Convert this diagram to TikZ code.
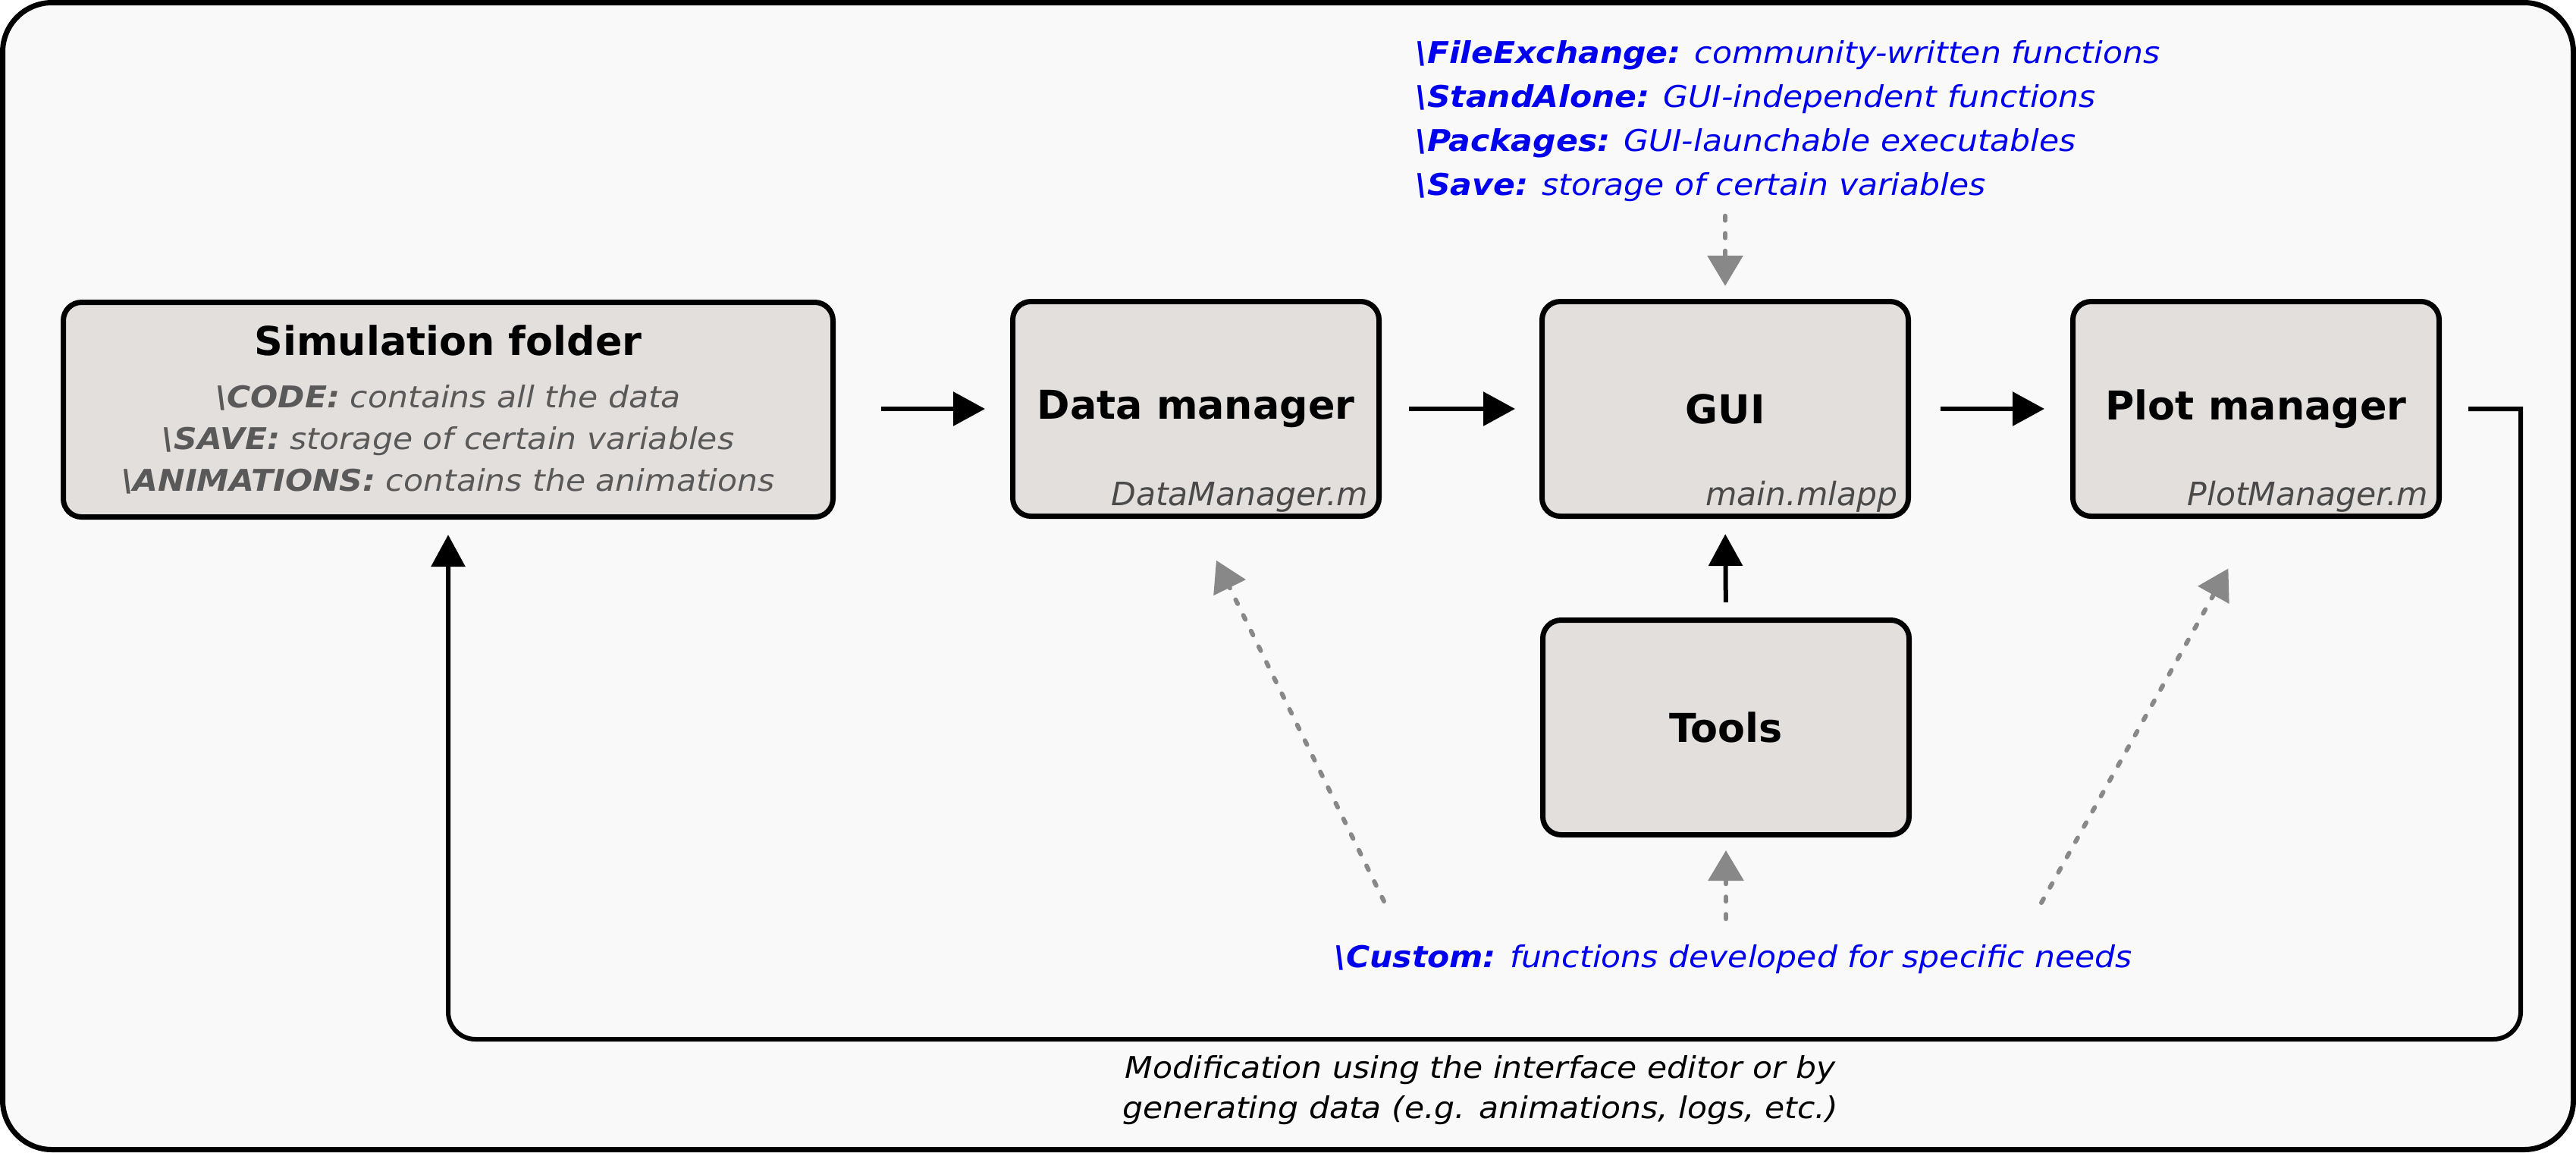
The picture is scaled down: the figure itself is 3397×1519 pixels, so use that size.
\documentclass[tikz,border=0pt]{standalone}
\usepackage{fontspec}
\setmainfont{DejaVu Sans}
\newfontfamily\notefont[FakeStretch=1.076]{DejaVu Sans}
\usetikzlibrary{arrows.meta}
\definecolor{bgfill}{HTML}{F9F9F9}
\definecolor{boxfill}{HTML}{E3DFDC}
\definecolor{subgray}{HTML}{595959}
\definecolor{filegray}{HTML}{4A4A4A}
\definecolor{noteblue}{HTML}{0000EE}
\definecolor{hintgray}{HTML}{888888}

\begin{document}
\begin{tikzpicture}[x=0.1mm,y=-0.1mm,
  box/.style={draw,line width=0.7mm,fill=boxfill,rounded corners=2.4mm,
    minimum width=48.3mm,minimum height=28.3mm,inner sep=0pt,
    font=\fontsize{14.9}{18}\selectfont\bfseries},
  boxtitle/.style={inner sep=0pt,font=\fontsize{14.9}{18}\selectfont\bfseries},
  sub/.style={inner sep=0pt,text=subgray,font=\notefont\itshape\fontsize{11.25}{15.6}\selectfont},
  note/.style={inner sep=0pt,text=noteblue,font=\notefont\itshape\fontsize{11.25}{16.5}\selectfont},
  filelabel/.style={inner sep=0pt,text=filegray,font=\itshape\fontsize{12.1}{14}\selectfont},
  flow/.style={line width=0.6mm,-{Triangle[length=4.2mm,width=4.4mm]}},
  hint/.style={line width=0.6mm,hintgray,line cap=round,dash pattern=on 0.6mm off 1.7mm,
    -{Triangle[length=4mm,width=4.6mm]}}]
\useasboundingbox (0,0) rectangle (3397,1519);
\draw[line width=0.7mm,fill=bgfill,rounded corners=6.5mm] (3.5,3.5) rectangle (3393.5,1515.5);

\node[box,minimum width=101.5mm] (sim) at (591,540) {};
\node[boxtitle,anchor=base] (simtitle) at (591,468) {Simulation folder};
\node[sub,align=center] (simtext) at (591,579)
  {\textbf{\textbackslash CODE:} contains all the data\\
   \textbf{\textbackslash SAVE:} storage of certain variables\\
   \textbf{\textbackslash ANIMATIONS:} contains the animations};

\node[box] (dm) at (1577,539) {Data manager};
\node[box] (gui) at (2275,539) {GUI};
\node[box] (pm) at (2975,539) {Plot manager};
\node[box] (tools) at (2276,959) {Tools};

\node[filelabel,anchor=base east] (dmfile) at ([shift={(-17,-18)}]dm.south east) {DataManager.m};
\node[filelabel,anchor=base east] (guifile) at ([shift={(-17,-18)}]gui.south east) {main.mlapp};
\node[filelabel,anchor=base east] (pmfile) at ([shift={(-17,-18)}]pm.south east) {PlotManager.m};

\node[note,align=left,anchor=north west] (fx) at (1866,53)
  {\textbf{\textbackslash FileExchange:} community-written functions\\
   \textbf{\textbackslash StandAlone:} GUI-independent functions\\
   \textbf{\textbackslash Packages:} GUI-launchable executables\\
   \textbf{\textbackslash Save:} storage of certain variables};
\node[note,anchor=base west] (cu) at (1759,1275)
  {\textbf{\textbackslash Custom:} functions developed for specific needs};
\node[inner sep=0pt,align=center,font=\notefont\itshape\fontsize{11.25}{15.1}\selectfont] (modif) at (1952,1437)
  {Modification using the interface editor or by\\
   generating data (e.g. animations, logs, etc.)};

\draw[flow,shorten <=6mm,shorten >=3.3mm] (sim.east |- dm.west) -- (dm.west);
\draw[flow,shorten <=3.6mm,shorten >=3.2mm] (dm.east) -- (gui.west);
\draw[flow,shorten <=3.9mm,shorten >=3.4mm] (gui.east) -- (pm.west);
\draw[flow,shorten <=2mm,shorten >=2mm] (tools.north) -- (gui.south);

\coordinate (loopR) at (3324,1370);
\draw[flow,shorten >=2mm] ([xshift=3.5mm]pm.east) -- (pm.east -| loopR) [rounded corners=3.6mm]
  -- (loopR) -- (loopR -| sim.south) -- (sim.south);

\draw[hint,shorten <=1.8mm,shorten >=1.7mm] (gui.north |- fx.south) -- (gui.north);
\draw[hint,shorten <=3.3mm,shorten >=1.7mm] (tools.south |- cu.north) -- (tools.south);
\coordinate (cuL) at (1825,1188);
\coordinate (cuR) at (2692,1190);
\draw[hint,shorten >=6.1mm] (cuL) -- (dm.south);
\draw[hint,shorten >=7.5mm] (cuR) -- (pm.south);
\end{tikzpicture}
\end{document}
